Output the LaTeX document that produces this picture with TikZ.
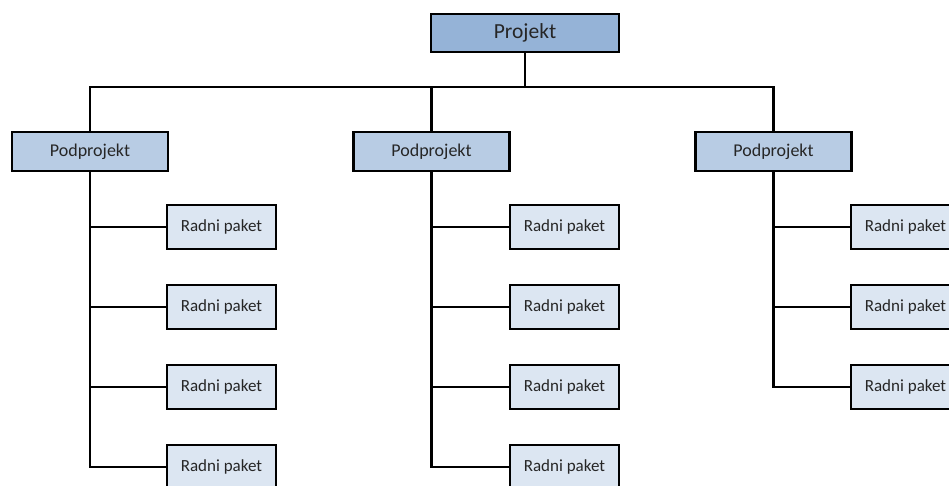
\documentclass[tikz,border=0pt]{standalone}
\usepackage{fontspec}
\setmainfont{Carlito}
\begin{document}
\begin{tikzpicture}[x=1pt,y=-1pt,
  box/.style={draw=black,line width=2.2pt,inner sep=0pt,text=black!85},
  projbox/.style={box,fill=projcol,minimum width=188pt,minimum height=38pt,font=\fontsize{21.5}{23}\selectfont},
  subbox/.style={box,fill=subcol,minimum width=156pt,minimum height=39pt,font=\fontsize{18}{20}\selectfont},
  wpbox/.style={box,fill=wpcol,minimum width=109pt,minimum height=44pt,font=\fontsize{17}{19}\selectfont},
  link/.style={draw=black,line width=2.2pt}]
\definecolor{projcol}{RGB}{149,179,215}
\definecolor{subcol}{RGB}{184,204,228}
\definecolor{wpcol}{RGB}{220,230,242}
\useasboundingbox (0,0) rectangle (949,486);
\clip (0,0) rectangle (949,486);
\fill[white] (0,0) rectangle (949,486);
\node[projbox] (proj) at (525,33) {Projekt};
\coordinate (bus) at (525,87);
\node[subbox] (pp1) at (90,151.5) {Podprojekt};
\node[subbox] (pp2) at (431.5,151.5) {Podprojekt};
\node[subbox] (pp3) at (773.5,151.5) {Podprojekt};
\foreach \r/\y in {1/227,2/307,3/387,4/467}{
  \node[wpbox] (rp1\r) at (221.5,\y) {Radni paket};
  \node[wpbox] (rp2\r) at (564.5,\y) {Radni paket};
}
\foreach \r/\y in {1/227,2/307,3/387}{
  \node[wpbox] (rp3\r) at (905.5,\y) {Radni paket};
}
\draw[link] (proj.south) -- (bus);
\draw[link] (pp1.north) |- (bus);
\draw[link] (pp3.north) |- (bus);
\draw[link] (pp2.north) -- (pp2.north |- bus);
\foreach \r in {1,2,3,4}{
  \draw[link] (pp1.south) |- (rp1\r.west);
  \draw[link] (pp2.south) |- (rp2\r.west);
}
\foreach \r in {1,2,3}{
  \draw[link] (pp3.south) |- (rp3\r.west);
}
\end{tikzpicture}
\end{document}
